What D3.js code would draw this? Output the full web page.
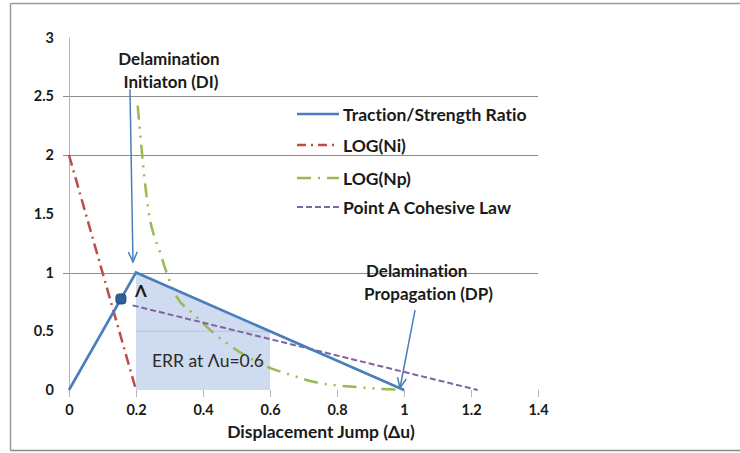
<!DOCTYPE html>
<html>
<head>
<meta charset="utf-8">
<script src="https://cdn.jsdelivr.net/npm/d3@7/dist/d3.min.js"></script>
<style>
  html, body { margin: 0; padding: 0; background: #fff; }
  svg { display: block; font-family: Lato, "Open Sans", sans-serif; font-variant-ligatures: none; font-feature-settings: "liga" 0; }
</style>
</head>
<body>
<svg id="chart" width="740" height="453"></svg>
<script>
// ---- data ----
const xTicks = [0, 0.2, 0.4, 0.6, 0.8, 1, 1.2, 1.4];
const yTicks = [0, 0.5, 1, 1.5, 2, 2.5, 3];
const gridValues = [1, 2, 2.5];

const tractionX = [0, 0.2, 1.0];
const tractionY = [0, 1, 0];

const logNiX = [0, 0.2];
const logNiY = [2, 0];

const logNpX = [0.205, 0.236, 0.272, 0.322, 0.367, 0.43, 0.47, 0.59, 0.66, 0.73, 0.88, 1.0];
const logNpY = [2.42, 1.55, 1.17, 0.79, 0.66, 0.49, 0.40, 0.2, 0.13, 0.07, 0.02, 0];

const cohesiveX = [0.19, 1.22];
const cohesiveY = [0.72, 0];

const pointA = [0.155, 0.775];
const errRange = [0.2, 0.6];

const seriesNames = ["Traction/Strength Ratio", "LOG(Ni)", "LOG(Np)", "Point A Cohesive Law"];
const colors = ["#4a7ebb", "#be4b48", "#98b954", "#8064a2"];

// ---- layout ----
const svg = d3.select("#chart");
const x = d3.scaleLinear().domain([0, 1.4]).range([69, 538]);
const y = d3.scaleLinear().domain([0, 3]).range([390, 37.5]);
const FONT = "Lato, 'Open Sans', sans-serif";

// frame
svg.append("line").attr("x1", 10.5).attr("x2", 740).attr("y1", 3.5).attr("y2", 3.5).attr("stroke", "#9a9a9a").attr("stroke-width", 1.5);
svg.append("line").attr("x1", 10.5).attr("x2", 740).attr("y1", 450.5).attr("y2", 450.5).attr("stroke", "#8a8a8a").attr("stroke-width", 1.5);
svg.append("line").attr("x1", 10.5).attr("x2", 10.5).attr("y1", 3.5).attr("y2", 450.5).attr("stroke", "#9a9a9a").attr("stroke-width", 1.5);

// gridlines
svg.append("g").selectAll("line").data(gridValues).join("line")
  .attr("x1", 63).attr("x2", x(1.4)).attr("y1", d => Math.round(y(d)) + 0.5).attr("y2", d => Math.round(y(d)) + 0.5)
  .attr("stroke", "#8c8c8c").attr("stroke-width", 1);

// y axis line
svg.append("line").attr("x1", x(0) + 0.5).attr("x2", x(0) + 0.5).attr("y1", y(3)).attr("y2", y(0))
  .attr("stroke", "#b5b5b5").attr("stroke-width", 1);

// shaded ERR region under traction curve
const tractionAt = v => v <= 0.2 ? v / 0.2 : (1 - v) / 0.8;
const shadeData = [[errRange[0], 0], [errRange[0], tractionAt(errRange[0])], [errRange[1], tractionAt(errRange[1])], [errRange[1], 0]];
svg.append("path")
  .attr("d", d3.line().x(d => x(d[0])).y(d => y(d[1]))(shadeData) + "Z")
  .attr("fill", "#cfdbee");
svg.append("line").attr("x1", x(errRange[0])).attr("x2", x(errRange[1])).attr("y1", y(0.5)).attr("y2", y(0.5))
  .attr("stroke", "#b3c4de").attr("stroke-width", 1);

// axes
const xAxis = svg.append("g").attr("transform", `translate(0,${y(0)})`)
  .call(d3.axisBottom(x).tickValues(xTicks).tickFormat(d => String(d)).tickSize(7).tickPadding(8));
xAxis.select(".domain").remove();
xAxis.selectAll(".tick line").attr("stroke", "#b5b5b5");
xAxis.selectAll("text").attr("font-size", 14.5).attr("font-weight", "bold").attr("fill", "#1a1a1a")
  .attr("font-family", FONT);

const yAxis = svg.append("g").attr("transform", `translate(${x(0)},0)`)
  .call(d3.axisLeft(y).tickValues(yTicks).tickFormat(d => String(d)).tickSize(0).tickPadding(15));
yAxis.select(".domain").remove();
yAxis.selectAll("text").attr("font-size", 14.5).attr("font-weight", "bold").attr("fill", "#1a1a1a")
  .attr("font-family", FONT);

// axis title
svg.append("text").attr("x", 321).attr("y", 438).attr("text-anchor", "middle")
  .attr("font-size", 17.5).attr("font-weight", "bold").attr("fill", "#1a1a1a")
  .text("Displacement Jump (Δu)");

// series
const line = d3.line().x(d => x(d[0])).y(d => y(d[1]));
const zip = (a, b) => a.map((v, i) => [v, b[i]]);

// LOG(Ni)
svg.append("path").attr("d", line(zip(logNiX, logNiY))).attr("fill", "none")
  .attr("stroke", colors[1]).attr("stroke-width", 2.5).attr("stroke-dasharray", "11,5,2,5");
// LOG(Np)
svg.append("path").attr("d", d3.line().x(d => x(d[0])).y(d => y(d[1])).curve(d3.curveMonotoneX)(zip(logNpX, logNpY)))
  .attr("fill", "none").attr("stroke", colors[2]).attr("stroke-width", 2.5).attr("stroke-dasharray", "14,7,2,7,2,7");
// Cohesive law
svg.append("path").attr("d", line(zip(cohesiveX, cohesiveY))).attr("fill", "none")
  .attr("stroke", colors[3]).attr("stroke-width", 2).attr("stroke-dasharray", "6,3");
// Traction
svg.append("path").attr("d", line(zip(tractionX, tractionY))).attr("fill", "none")
  .attr("stroke", colors[0]).attr("stroke-width", 2.6).attr("stroke-linejoin", "miter");

// point A marker
svg.append("rect").attr("x", x(pointA[0]) - 5).attr("y", y(pointA[1]) - 5).attr("width", 10).attr("height", 10)
  .attr("rx", 3).attr("fill", "#2e5f9a").attr("stroke", "#234c7d").attr("stroke-width", 1);
svg.append("text").attr("x", x(pointA[0]) + 14).attr("y", y(pointA[1]) - 2)
  .attr("font-size", 17).attr("font-weight", "bold").attr("fill", "#1a1a1a").text("Λ");

// ERR label
svg.append("text").attr("x", 208).attr("y", 367).attr("text-anchor", "middle")
  .attr("font-size", 17.5).attr("fill", "#2a2a2a").text("ERR at Λu=0.6");

// arrows
function arrow(from, to) {
  const x1 = x(from[0]), y1 = y(from[1]), x2 = x(to[0]), y2 = y(to[1]);
  const ang = Math.atan2(y2 - y1, x2 - x1);
  const L = 11, spread = 0.42;
  svg.append("line").attr("x1", x1).attr("y1", y1).attr("x2", x2).attr("y2", y2)
    .attr("stroke", colors[0]).attr("stroke-width", 1.5);
  const p = [[x2 - L * Math.cos(ang - spread), y2 - L * Math.sin(ang - spread)], [x2, y2],
             [x2 - L * Math.cos(ang + spread), y2 - L * Math.sin(ang + spread)]];
  svg.append("path").attr("d", d3.line()(p)).attr("fill", "none")
    .attr("stroke", colors[0]).attr("stroke-width", 1.5);
}
arrow([0.182, 2.56], [0.191, 1.09]);
arrow([1.033, 0.68], [0.988, 0.017]);

// annotations
const ann = svg.append("g").attr("font-size", 17).attr("font-weight", "bold").attr("fill", "#1a1a1a");
ann.append("text").attr("x", 169).attr("y", 65).attr("text-anchor", "middle").text("Delamination");
ann.append("text").attr("x", 171).attr("y", 88).attr("text-anchor", "middle").text("Initiaton (DI)");
ann.append("text").attr("x", 366).attr("y", 277).text("Delamination");
ann.append("text").attr("x", 364).attr("y", 300).text("Propagation (DP)");

// legend
const legY = [114, 145, 178, 207];
const dashes = [null, "9,5,2,5", "14,7,2,7", "6,3"];
const leg = svg.append("g");
seriesNames.forEach((name, i) => {
  leg.append("line").attr("x1", 297).attr("x2", 339).attr("y1", legY[i]).attr("y2", legY[i])
    .attr("stroke", colors[i]).attr("stroke-width", i === 3 ? 2 : 2.5)
    .attr("stroke-dasharray", dashes[i]);
  leg.append("text").attr("x", 343).attr("y", legY[i] + 6.5)
    .attr("font-size", 17.5).attr("font-weight", "bold").attr("fill", "#1a1a1a").text(name);
});
</script>
</body>
</html>
